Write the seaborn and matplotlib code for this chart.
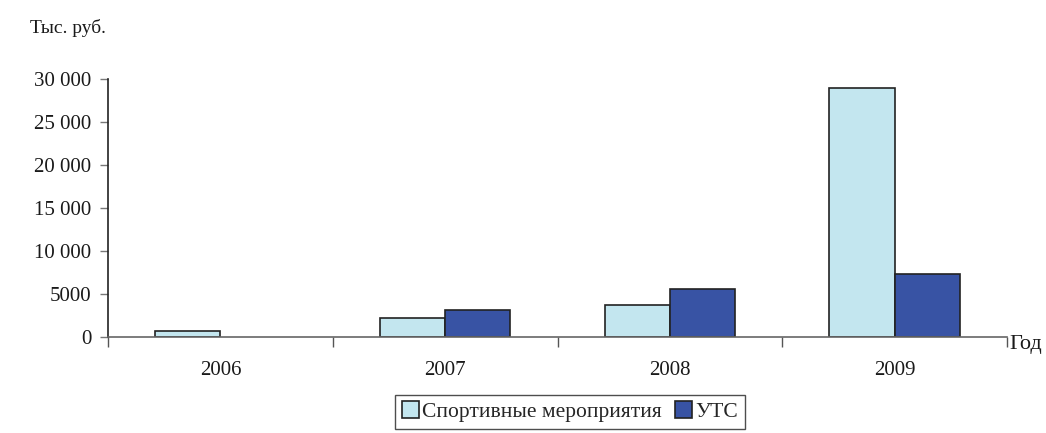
import pandas as pd
import matplotlib.pyplot as plt
import seaborn as sns
from matplotlib.patches import Patch

years = ["2006", "2007", "2008", "2009"]
sport_events = [660, 2260, 3730, 28900]
uts = [0, 3110, 5590, 7330]
series_names = ["Спортивные мероприятия", "УТС"]
y_ticks = [0, 5000, 10000, 15000, 20000, 25000, 30000]
y_tick_labels = ["0", "5000", "10 000", "15 000", "20 000", "25 000", "30 000"]

df = pd.DataFrame({
    "Год": years * 2,
    "Значение": sport_events + uts,
    "Серия": [series_names[0]] * 4 + [series_names[1]] * 4,
})

sns.set_theme(style="white")
plt.rcParams['font.family'] = ['Liberation Serif', 'DejaVu Serif']

fig = plt.figure(figsize=(10.46, 4.33), dpi=100)
ax = fig.add_axes([0.1033, 0.2217, 0.8594, 0.5959])

colors = ["#C3E6EF", "#3853A4"]
palette = dict(zip(series_names, colors))
sns.barplot(data=df, x="Год", y="Значение", hue="Серия", palette=palette,
            width=0.58, edgecolor="#222222", linewidth=1.2, saturation=1,
            ax=ax, legend=False)

# hide the zero-height bar outline
for p in ax.patches:
    if p.get_height() == 0:
        p.set_visible(False)

ax.set_xlim(-0.5, 3.5)
ax.set_ylim(0, 30000)
ax.set_yticks(y_ticks)
ax.set_yticklabels(y_tick_labels, fontsize=15, color="#1a1a1a")
ax.set_xticks(range(4))
ax.set_xticklabels(years, fontsize=15, color="#1a1a1a")
ax.set_xticks([-0.5, 0.5, 1.5, 2.5, 3.5], minor=True)
ax.tick_params(axis="x", which="major", length=0, pad=17, bottom=False)
ax.tick_params(axis="x", which="minor", length=7, width=1, color="#555555",
               direction="out", bottom=True)
ax.tick_params(axis="y", length=6, width=1, color="#777777", direction="out",
               left=True, pad=6)
ax.set_xlabel("")
ax.set_ylabel("")

for side in ["top", "right"]:
    ax.spines[side].set_visible(False)
ax.spines["left"].set_color("#222222")
ax.spines["left"].set_linewidth(1.2)
ax.spines["bottom"].set_color("#666666")
ax.spines["bottom"].set_linewidth(1.2)

fig.text(0.029, 0.935, "Тыс. руб.", fontsize=14, color="#1a1a1a", va="center")
fig.text(0.965, 0.205, "Год", fontsize=16, color="#1a1a1a", va="center")

handles = [Patch(facecolor=c, edgecolor="#222222", linewidth=1.2) for c in colors]
leg = fig.legend(handles, series_names, loc="upper center", bbox_to_anchor=(0.545, 0.088),
                 ncol=2, fontsize=15.5, frameon=True, fancybox=False, handlelength=0.8,
                 handleheight=0.8, handletextpad=0.15, columnspacing=0.6,
                 borderpad=0.3, borderaxespad=0)
leg.get_frame().set_edgecolor("#222222")
leg.get_frame().set_linewidth(1.0)

fig.savefig("out.png", dpi=100)
